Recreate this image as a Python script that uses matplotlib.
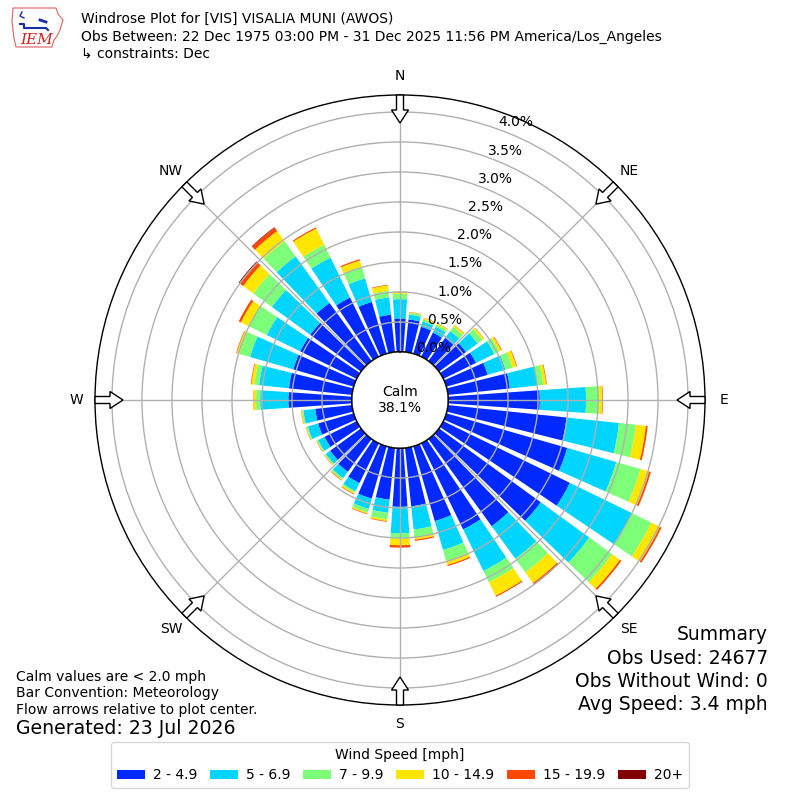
import numpy as np
import matplotlib
matplotlib.use('Agg')
import matplotlib.pyplot as plt
from matplotlib.patches import Circle, FancyArrow, Rectangle, Polygon

# wind directions (deg), 10 degree bins
directions = np.arange(0, 360, 10)

# percent of obs per direction bin, one list per speed class
spd_2_5 = [0.56, 0.55, 0.47, 0.45, 0.48, 0.56, 0.61, 0.72, 1.04, 1.53, 1.99, 2.10,
           2.35, 2.10, 1.80, 1.60, 1.30, 0.98, 0.98, 0.87, 0.91, 0.74, 0.68, 0.64,
           0.60, 0.62, 0.62, 1.06, 1.06, 1.05, 1.05, 1.05, 1.20, 1.10, 0.90, 0.63]
spd_5_7 = [0.32, 0.08, 0.09, 0.11, 0.14, 0.24, 0.34, 0.31, 0.46, 0.77, 0.88, 0.85,
           1.15, 1.00, 0.67, 0.77, 0.50, 0.39, 0.44, 0.22, 0.18, 0.15, 0.13, 0.09,
           0.12, 0.18, 0.20, 0.47, 0.50, 0.75, 0.62, 0.79, 0.96, 0.74, 0.41, 0.29]
spd_7_10 = [0.09, 0.03, 0.04, 0.04, 0.09, 0.10, 0.09, 0.12, 0.10, 0.22, 0.28, 0.42,
            0.36, 0.47, 0.28, 0.21, 0.19, 0.13, 0.09, 0.11, 0.06, 0.03, 0.03, 0.02,
            0.02, 0.02, 0.02, 0.07, 0.08, 0.19, 0.33, 0.38, 0.31, 0.24, 0.20, 0.11]
spd_10_15 = [0.03, 0.01, 0.02, 0.02, 0.03, 0.03, 0.04, 0.07, 0.05, 0.05, 0.17, 0.15,
             0.16, 0.16, 0.22, 0.25, 0.07, 0.04, 0.11, 0.03, 0.02, 0.02, 0.01, 0.01,
             0.01, 0.01, 0.015, 0.04, 0.05, 0.04, 0.15, 0.21, 0.21, 0.30, 0.11, 0.09]
spd_15_20 = [0.005, 0.005, 0.005, 0.005, 0.005, 0.005, 0.01, 0.01, 0.01, 0.01, 0.03, 0.03,
             0.03, 0.03, 0.03, 0.02, 0.02, 0.02, 0.04, 0.01, 0.01, 0.01, 0.01, 0.005,
             0.005, 0.005, 0.005, 0.005, 0.01, 0.01, 0.04, 0.08, 0.07, 0.02, 0.02, 0.01]
spd_20_up = [0, 0, 0, 0, 0, 0, 0, 0, 0, 0, 0, 0,
             0, 0, 0, 0, 0, 0, 0, 0, 0, 0, 0, 0,
             0, 0, 0, 0, 0, 0, 0, 0.015, 0.01, 0, 0, 0]
speed_labels = ['2 - 4.9', '5 - 6.9', '7 - 9.9', '10 - 14.9', '15 - 19.9', '20+']
calm_pct = 38.1

compass = ['N', 'NE', 'E', 'SE', 'S', 'SW', 'W', 'NW']
rings = np.arange(0, 4.01, 0.5)

title_lines = ['Windrose Plot for [VIS] VISALIA MUNI (AWOS)',
               'Obs Between: 22 Dec 1975 03:00 PM - 31 Dec 2025 11:56 PM America/Los_Angeles',
               '\u21b3 constraints: Dec']
notes = ['Calm values are < 2.0 mph', 'Bar Convention: Meteorology',
         'Flow arrows relative to plot center.']
summary = ['Summary', 'Obs Used: 24677', 'Obs Without Wind: 0', 'Avg Speed: 3.4 mph']

series = [spd_2_5, spd_5_7, spd_7_10, spd_10_15, spd_15_20, spd_20_up]
colors = plt.cm.jet(np.linspace(0, 1, 7)[1:])

fig = plt.figure(figsize=(8, 8), dpi=100)
ax = fig.add_axes([95 / 800, 95 / 800, 610 / 800, 610 / 800], projection='polar')
ax.set_theta_zero_location('N')
ax.set_theta_direction(-1)

theta = np.deg2rad(directions)
bottom = np.zeros(len(directions))
for vals, c in zip(series, colors):
    vals = np.array(vals, dtype=float)
    ax.bar(theta, vals, width=np.deg2rad(8), bottom=bottom, color=c,
           edgecolor='none', zorder=1)
    bottom += vals

rorig = 0.8
rmax = 4.283
ax.set_rorigin(-rorig)
ax.set_ylim(0, rmax)
ax.set_rticks(rings)
ax.set_yticklabels(['%.1f%%' % v for v in rings], fontsize=10)
ax.set_rlabel_position(20)
ax.set_thetagrids(np.arange(0, 360, 45), compass)
ax.tick_params(axis='x', pad=3, labelsize=10)
ax.grid(color='#b0b0b0', lw=1)
ax.spines['polar'].set_color('black')
ax.spines['polar'].set_linewidth(1)

# calm circle in the middle
crad = 0.5 * rorig / (rmax + rorig)
ax.add_artist(Circle((0.5, 0.5), crad, transform=ax.transAxes, fc='white',
                     ec='black', lw=1.5, zorder=5))
ax.text(0.5, 0.5, 'Calm\n%.1f%%' % calm_pct, transform=ax.transAxes,
        ha='center', va='center', fontsize=10, zorder=6)

# flow arrows, pointing to center
for d in range(0, 360, 45):
    s, c = np.sin(np.deg2rad(d)), np.cos(np.deg2rad(d))
    x0 = 0.5 + 305 / 800 * s
    y0 = 0.5 + 305 / 800 * c
    fig.add_artist(FancyArrow(x0, y0, -28 / 800 * s, -28 / 800 * c,
                              width=7 / 800, head_width=17 / 800, head_length=13 / 800,
                              length_includes_head=True, fc='white', ec='black',
                              lw=1, transform=fig.transFigure, zorder=10))

# header
for i, t in enumerate(title_lines):
    fig.text(81 / 800, 1 - (19 + 17.5 * i) / 800, t, fontsize=10, va='center')

# logo (rough)
lax = fig.add_axes([10 / 800, 1 - 50 / 800, 56 / 800, 44 / 800])
lax.set_xlim(0, 56)
lax.set_ylim(0, 44)
lax.axis('off')
lax.add_patch(Polygon([(3, 42), (46, 42), (48, 36), (53, 30), (50, 20), (47, 14),
                       (44, 10), (42, 3), (6, 3), (4, 12), (2, 28)],
                      closed=True, fc='none', ec='#e06060', lw=0.8))
lax.plot([10, 14, 14, 36, 38], [26, 26, 22, 22, 20], color='#1a2ea8', lw=1.5)
lax.plot([12, 10, 14], [38, 34, 32], color='#1a2ea8', lw=1)
lax.plot([30, 36], [30, 28], color='#1a2ea8', lw=2)
lax.text(27, 10, 'IEM', color='#d02020', fontsize=11, family='serif',
         style='italic', ha='center', va='center')

# notes
for i, t in enumerate(notes):
    fig.text(16 / 800, 1 - (677 + 16.5 * i) / 800, t, fontsize=10, va='center')
fig.text(16 / 800, 1 - 729 / 800, 'Generated: 23 Jul 2026', fontsize=13.6, va='center')

for i, t in enumerate(summary):
    fig.text(768 / 800, 1 - (635 + 23.3 * i) / 800, t, fontsize=13.5, va='center', ha='right')

handles = [Rectangle((0, 0), 1, 1, fc=c, ec='none') for c in colors]
fig.legend(handles, speed_labels, ncol=6, loc='center',
           bbox_to_anchor=(0.5, 1 - 765 / 800), title='Wind Speed [mph]',
           fontsize=10, title_fontsize=10, handlelength=2, handletextpad=0.6,
           columnspacing=0.9)

fig.savefig('out.png', dpi=100)
